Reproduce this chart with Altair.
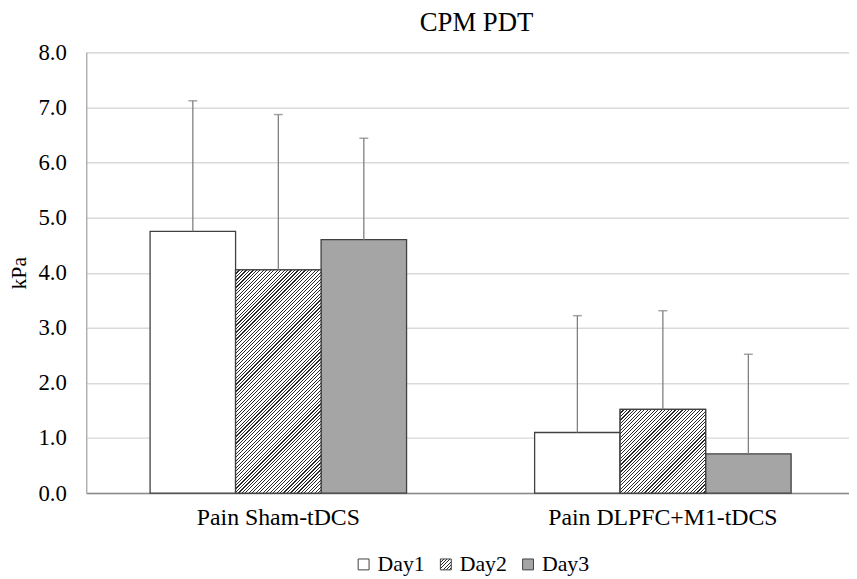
import json
import altair as alt
import pandas as pd

groups = ["Pain Sham-tDCS", "Pain Sham-tDCS", "Pain Sham-tDCS",
          "Pain DLPFC+M1-tDCS", "Pain DLPFC+M1-tDCS", "Pain DLPFC+M1-tDCS"]
days = ["Day1", "Day2", "Day3", "Day1", "Day2", "Day3"]
means = [4.75, 4.05, 4.60, 1.10, 1.52, 0.71]
errors = [2.37, 2.82, 1.84, 2.12, 1.79, 1.81]

group_order = ["Pain Sham-tDCS", "Pain DLPFC+M1-tDCS"]
day_order = ["Day1", "Day2", "Day3"]

FONT = "'Liberation Serif', 'Times New Roman', serif"
PLOT_W = 770
PLOT_H = 445
RANGE_W = 776
PAD_IN = 0.333
PAD_OUT = 0.166
YMAX = 8

df = pd.DataFrame({"group": groups, "day": days, "mean": means, "err": errors})
df["hi"] = df["mean"] + df["err"]

step = RANGE_W / (2 - PAD_IN + 2 * PAD_OUT)
bar_w = step * (1 - PAD_IN) / 3


def hatch(w, h, p=3.5, duty=0.34, dark="#2a2a2a", light="#ffffff"):
    k = (w + h) * w / (w * w + h * h)
    dt = p / (w + h)
    stops = []
    i = 0
    while i * dt < 1:
        t0 = i * dt
        t1 = min(t0 + duty * dt, 1)
        t2 = min((i + 1) * dt, 1)
        stops += [{"offset": t0, "color": dark}, {"offset": t1, "color": dark},
                  {"offset": t1, "color": light}, {"offset": t2, "color": light}]
        i += 1
    return {"gradient": "linear", "x1": 0, "y1": 0, "x2": k, "y2": k * h / w,
            "stops": stops}


legend_grad_expr = json.dumps(hatch(11, 11, p=3.2))
day_colors = ["#ffffff", alt.ExprRef(legend_grad_expr), "#a5a5a5"]

x_enc = alt.X("group:N", sort=group_order,
              scale=alt.Scale(domain=group_order, range=[0, RANGE_W],
                              paddingInner=PAD_IN, paddingOuter=PAD_OUT),
              axis=alt.Axis(title=None, labelAngle=0, ticks=False,
                            domainColor="#8c8c8c", domainWidth=1.5,
                            labelFont=FONT, labelFontSize=24, labelColor="#000000",
                            labelPadding=13, labelLimit=500, grid=False))
xo_enc = alt.XOffset("day:N", sort=day_order,
                     scale=alt.Scale(domain=day_order, paddingInner=0, paddingOuter=0))
y_scale = alt.Scale(domain=[0, YMAX], nice=False)
y_enc = alt.Y("mean:Q", scale=y_scale,
              axis=alt.Axis(title="kPa", values=list(range(0, YMAX + 1)), format=".1f",
                            ticks=False, grid=True, gridColor="#d9d9d9", gridWidth=1.5,
                            domainColor="#a6a6a6", domainWidth=1.2,
                            labelFont=FONT, labelFontSize=23, labelColor="#000000",
                            labelPadding=20, titleFont=FONT, titleFontSize=22,
                            titleFontWeight="normal", titleColor="#000000",
                            titlePadding=8))

legend = alt.Legend(title=None, orient="none", direction="horizontal",
                    legendX=269, legendY=506, symbolType="square", symbolSize=121,
                    symbolStrokeColor="#404040", symbolStrokeWidth=1,
                    labelFont=FONT, labelFontSize=22, labelColor="#000000",
                    labelOffset=3, columnPadding=10)

bars = alt.Chart(df).mark_bar(stroke="#404040", strokeWidth=1.3, opacity=1).encode(
    x=x_enc, xOffset=xo_enc, y=y_enc,
    color=alt.Color("day:N", sort=day_order,
                    scale=alt.Scale(domain=day_order, range=day_colors),
                    legend=legend),
)

layers = [bars]
for g in group_order:
    row = df[(df["group"] == g) & (df["day"] == "Day2")].iloc[0]
    h = row["mean"] * PLOT_H / YMAX
    hatch_layer = alt.Chart(df).transform_filter(
        (alt.datum.group == g) & (alt.datum.day == "Day2")
    ).mark_bar(stroke="#404040", strokeWidth=1.3, fill=hatch(bar_w, h)).encode(
        x=x_enc, xOffset=xo_enc, y=y_enc)
    layers.append(hatch_layer)

rules = alt.Chart(df).mark_rule(color="#7f7f7f", strokeWidth=1.3).encode(
    x=x_enc, xOffset=xo_enc, y=alt.Y("mean:Q", scale=y_scale), y2="hi:Q")
caps = alt.Chart(df).mark_tick(color="#7f7f7f", thickness=1.5, size=9,
                               orient="horizontal").encode(
    x=x_enc, xOffset=xo_enc, y=alt.Y("hi:Q", scale=y_scale))
layers += [rules, caps]

chart = alt.layer(*layers).properties(
    width=PLOT_W, height=PLOT_H,
    title=alt.TitleParams("CPM PDT", font=FONT, fontSize=27, fontWeight="normal",
                          color="#000000", anchor="middle", frame="group",
                          offset=5, dx=9),
    autosize=alt.AutoSizeParams(type="none"),
    padding={"left": 79, "top": 42, "right": 0, "bottom": 84},
).configure_view(stroke=None).configure(background="#ffffff")

chart.save("out.html", embed_options={"renderer": "svg", "actions": False})
